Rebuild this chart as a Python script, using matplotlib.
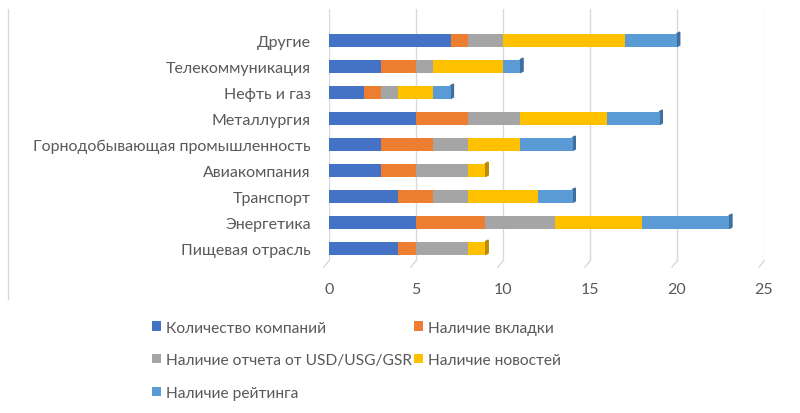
import numpy as np
import matplotlib.pyplot as plt
import matplotlib.transforms as mtransforms
from matplotlib.patches import Polygon
from matplotlib.lines import Line2D

plt.rcParams['font.family'] = ['Lato', 'DejaVu Sans']

industries = ['Пищевая отрасль', 'Энергетика', 'Транспорт', 'Авиакомпания',
              'Горнодобывающая промышленность', 'Металлургия', 'Нефть и газ',
              'Телекоммуникация', 'Другие']

companies = [4, 5, 4, 3, 3, 5, 2, 3, 7]
tab = [1, 4, 2, 2, 3, 3, 1, 2, 1]
report = [3, 4, 2, 3, 2, 3, 1, 1, 2]
news = [1, 5, 4, 1, 3, 5, 2, 4, 7]
rating = [0, 5, 2, 0, 3, 3, 1, 1, 3]

series = [
    ('Количество компаний', companies, '#4472c4'),
    ('Наличие вкладки', tab, '#ed7d31'),
    ('Наличие отчета от USD/USG/GSR', report, '#a5a5a5'),
    ('Наличие новостей', news, '#ffc000'),
    ('Наличие рейтинга', rating, '#5b9bd5'),
]
dark = {'#4472c4': '#2f528f', '#ed7d31': '#ae5a21', '#a5a5a5': '#7b7b7b',
        '#ffc000': '#bc8c00', '#5b9bd5': '#3f6f9e'}

fig = plt.figure(figsize=(8, 4.14), dpi=100)
ax = fig.add_axes([0.411, 0.367, 0.544, 0.609])

y = np.arange(len(industries))
h = 0.5
left = np.zeros(len(industries))
handles = {}
last_color = [None] * len(industries)
for name, vals, col in series:
    vals = np.array(vals, dtype=float)
    b = ax.barh(y, vals, left=left, height=h, color=col, zorder=3)
    handles[name] = b
    for i, v in enumerate(vals):
        if v > 0:
            last_color[i] = col
    left += vals

# thin darker side face at the end of every bar
dx, dy = 0.16, 0.06
for i, total in enumerate(left):
    side = Polygon([(total, y[i] - h / 2), (total + dx, y[i] - h / 2 + dy),
                    (total + dx, y[i] + h / 2 + dy), (total, y[i] + h / 2)],
                   closed=True, color=dark[last_color[i]], zorder=2)
    ax.add_patch(side)

ax.set_xlim(0, 25)
ax.set_ylim(-0.5, 9.2)
ax.set_xticks([0, 5, 10, 15, 20, 25])
ax.set_yticks(y)
ax.set_yticklabels(industries)
ax.grid(axis='x', color='#d9d9d9', linewidth=1, zorder=0)
for s in ax.spines.values():
    s.set_visible(False)
ax.tick_params(axis='both', length=0, labelsize=11.5, labelcolor='#595959')
ax.tick_params(axis='x', pad=15)
ax.tick_params(axis='y', pad=13)

# slanted floor edges under the gridlines
off = mtransforms.ScaledTranslation(-5 / 100, -6 / 100, fig.dpi_scale_trans)
for v in [0, 5, 10, 15, 20, 25]:
    p0 = ax.transData.transform((v, -0.5))
    p1 = (ax.transData + off).transform((v, -0.5))
    fig.add_artist(Line2D([p0[0] / 800, p1[0] / 800], [p0[1] / 414, p1[1] / 414],
                          color='#d9d9d9', lw=1))

order = ['Количество компаний', 'Наличие отчета от USD/USG/GSR', 'Наличие рейтинга',
         'Наличие вкладки', 'Наличие новостей']
leg = fig.legend([handles[n] for n in order], order, ncol=2, frameon=False,
                 loc='upper left', bbox_to_anchor=(0.173, 0.257),
                 handlelength=0.55, handleheight=0.55, handletextpad=0.35,
                 columnspacing=0.1, labelspacing=1.2, fontsize=11.2,
                 labelcolor='#595959')

fig.add_artist(Line2D([0.01, 0.01], [0.275, 0.976], color='#d9d9d9', lw=1))

fig.savefig('out.png', dpi=100)
